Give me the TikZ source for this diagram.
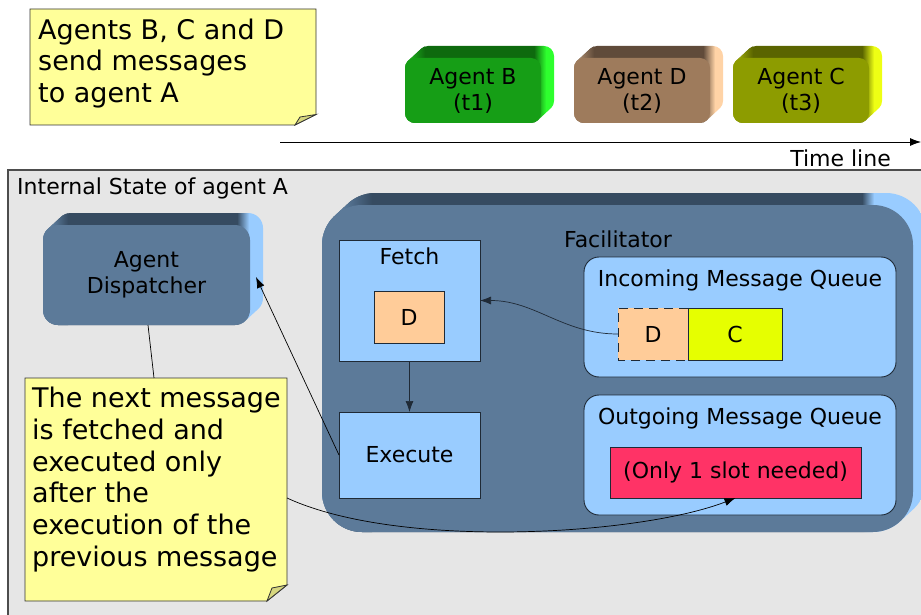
\documentclass[tikz,border=0pt]{standalone}
\usepackage{fontspec}
\setmainfont{DejaVu Sans}
\usetikzlibrary{arrows.meta,calc}

\definecolor{panelgray}{HTML}{E6E6E6}
\definecolor{panelline}{HTML}{4D4D4D}
\definecolor{noteyellow}{HTML}{FFFF99}
\definecolor{notefold}{HTML}{D6D67E}
\definecolor{slatefront}{HTML}{5C7A99}
\definecolor{slatetop}{HTML}{364B61}
\definecolor{skyblue}{HTML}{99CCFF}
\definecolor{bfront}{HTML}{169E16}
\definecolor{btop}{HTML}{0E6A0E}
\definecolor{bside}{HTML}{2EFF2E}
\definecolor{dfront}{HTML}{9E7B5C}
\definecolor{dtop}{HTML}{604B3A}
\definecolor{dside}{HTML}{FFD3A6}
\definecolor{cfront}{HTML}{8D9C00}
\definecolor{ctop}{HTML}{5A6400}
\definecolor{cside}{HTML}{EEFF14}
\definecolor{peach}{HTML}{FFCC99}
\definecolor{lime}{HTML}{E6FF00}
\definecolor{alertred}{HTML}{FF3366}
\definecolor{darkline}{HTML}{1F2A36}

% extruded part of a rounded box (depth 13 right, 12 up):
% #1,#2 = front top-left, #3,#4 = front bottom-right, #5 = radius,
% #6 = top colour, #7 = side colour, #8 = x where the top turns into the side
\newcommand{\boxdepth}[8]{%
  \begin{scope}
    \clip[rounded corners=#5] foreach \k in {0,...,13}
      { ($(#1,#2)+(\k,-\k*12/13)$) rectangle ($(#3,#4)+(\k,-\k*12/13)$) };
    \fill[#6] (#1-2,#2-20) rectangle (#8,#4+2);
    \shade[left color=#7!65!#6, right color=#6]
      (#1-2,#2-20) rectangle (#1+#5+10,#4+2);
    \shade[left color=#6, right color=#7] (#8,#2-20) rectangle (#8+12,#4+2);
    \fill[#7] (#8+12,#2-20) rectangle (#3+20,#4+2);
  \end{scope}%
}

\begin{document}
\begin{tikzpicture}[x=1pt,y=-1pt,
  lbl/.style={font=\fontsize{22}{26}\selectfont, align=center, inner sep=0pt},
  notetext/.style={font=\fontsize{27}{31.7}\selectfont, align=left,
                   inner sep=0pt, anchor=north west},
  front/.style={inner sep=0pt, outer sep=0pt, anchor=north west,
                align=center, font=\fontsize{22}{26}\selectfont},
  plainbox/.style={draw=darkline, line width=0.9pt, fill=skyblue,
                   inner sep=0pt, outer sep=0pt, anchor=north west},
  queue/.style={plainbox, rounded corners=15pt},
  notebody/.style={fill=noteyellow, draw=black!80, line width=0.8pt},
  notecurl/.style={fill=notefold, draw=black!80, line width=0.8pt},
  link/.style={line width=0.7pt, -{Latex[length=11pt,width=8pt]}},
  plainlink/.style={line width=0.7pt}
]
\useasboundingbox (0,0) rectangle (921,615);
\clip (0,0) rectangle (921,615);

% ---------- sender agents on the time line ----------
\boxdepth{405}{58}{541}{123}{10}{btop}{bside}{534}
\node[front, fill=bfront, rounded corners=10pt, minimum width=136pt,
      minimum height=65pt] (agB) at (405,58) {Agent B\\(t1)};
\boxdepth{574}{58}{710}{123}{10}{dtop}{dside}{703}
\node[front, fill=dfront, rounded corners=10pt, minimum width=136pt,
      minimum height=65pt] (agD) at (574,58) {Agent D\\(t2)};
\boxdepth{733}{58}{869}{123}{10}{ctop}{cside}{862}
\node[front, fill=cfront, rounded corners=10pt, minimum width=136pt,
      minimum height=65pt] (agC) at (733,58) {Agent C\\(t3)};

\coordinate (tstart) at (280,142);
\coordinate (tend) at (921,142);
\draw[line width=0.8pt, -{Latex[length=11pt,width=8pt]}] (tstart) -- (tend);
\node[lbl, anchor=east] (tlabel) at (891,158) {Time line};

% ---------- note at the top ----------
\path[notebody] (30,9) -- (316,9) -- (316,114.5) -- (295,125) -- (30,125) -- cycle;
\path[notecurl] (295,125) -- (300,117) -- (316,114.5) -- cycle;
\node[notetext] (note1) at (38,18.5) {Agents B, C and D\\send messages\\to agent A};

% ---------- internal state panel ----------
\path[fill=panelgray, draw=panelline, line width=1.2pt] (8,170) rectangle (940,640);
\node[lbl, anchor=west] (statelbl) at (17,188) {Internal State of agent A};

% agent dispatcher
\boxdepth{43}{225}{250}{325}{15}{slatetop}{skyblue}{237}
\node[front, fill=slatefront, rounded corners=15pt, minimum width=207pt,
      minimum height=100pt] (disp) at (43,225) {Agent\\Dispatcher};

% facilitator
\boxdepth{322}{205}{913}{532}{40}{slatetop}{skyblue}{862}
\node[front, fill=slatefront, rounded corners=40pt, minimum width=591pt,
      minimum height=327pt] (facil) at (322,205) {};
\node[lbl] (faciltxt) at (618,239) {Facilitator};

% fetch and execute stages
\node[plainbox, minimum width=141pt, minimum height=121pt] (fetch) at (339,240) {};
\node[lbl] (fetchtxt) at (409.5,256) {Fetch};
\node[plainbox, fill=peach, minimum width=70pt, minimum height=52pt,
      font=\fontsize{22}{26}\selectfont] (dfetched) at (374,291) {D};
\node[plainbox, minimum width=141pt, minimum height=86pt,
      font=\fontsize{22}{26}\selectfont] (exec) at (339,412) {Execute};

% incoming queue
\node[queue, minimum width=312pt, minimum height=120pt] (inq) at (584,257) {};
\node[lbl] (inqtxt) at (740,280) {Incoming Message Queue};
\node[inner sep=0pt, outer sep=0pt, anchor=north west, fill=peach,
      minimum width=70pt, minimum height=52pt,
      font=\fontsize{22}{26}\selectfont] (dslot) at (618,308) {D};
\draw[darkline, line width=0.9pt, dash pattern=on 9pt off 6pt]
  (dslot.north east) -- (dslot.north west) -- (dslot.south west) -- (dslot.south east);
\node[plainbox, fill=lime, minimum width=94pt, minimum height=52pt,
      font=\fontsize{22}{26}\selectfont] (cslot) at (688,308) {C};

% outgoing queue
\node[queue, minimum width=312pt, minimum height=120pt] (outq) at (584,395) {};
\node[lbl] (outqtxt) at (740,418) {Outgoing Message Queue};
\node[plainbox, fill=alertred, minimum width=251pt, minimum height=51pt,
      font=\fontsize{22}{26}\selectfont] (slot) at (610,447) {(Only 1 slot needed)};

% note at the bottom
\path[notebody] (25,378) -- (287,378) -- (287,585) -- (267,601) -- (25,601) -- cycle;
\path[notecurl] (267,601) -- (272,588) -- (287,585) -- cycle;
\coordinate (notetop) at (154,378);
\coordinate (noteright) at (287,498);
\node[notetext] (note2) at (32,387) {The next message\\is fetched and\\executed only\\after the\\execution of the\\previous message};

% ---------- connectors ----------
\coordinate (dispside) at (256,277);
\draw[link, darkline] (fetch.south) -- (exec.north);
\draw[link, darkline] (dslot.west) to[out=180,in=0] (fetch.east);
\draw[link] (exec.west) -- (dispside);
\draw[plainlink] ($(disp.south)+(1.5,0)$) -- (notetop);
\draw[link] (noteright) .. controls (400,550) and (640,535) .. (slot.south);
\end{tikzpicture}
\end{document}
